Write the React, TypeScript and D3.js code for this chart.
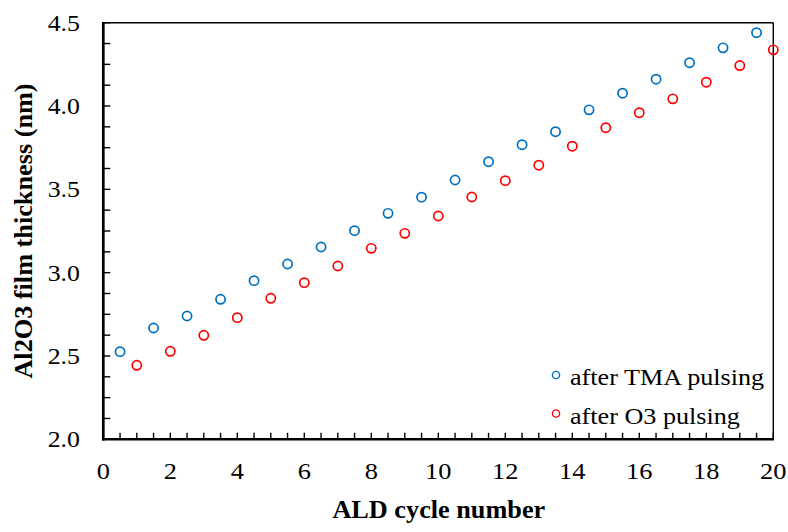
import React from "react";
import * as d3 from "d3";

const tmaCycles = [0.5, 1.5, 2.5, 3.5, 4.5, 5.5, 6.5, 7.5, 8.5, 9.5, 10.5, 11.5, 12.5, 13.5, 14.5, 15.5, 16.5, 17.5, 18.5, 19.5];
const tmaThickness = [2.526, 2.668, 2.74, 2.84, 2.952, 3.052, 3.154, 3.252, 3.356, 3.453, 3.556, 3.666, 3.768, 3.846, 3.977, 4.077, 4.161, 4.26, 4.349, 4.44];
const o3Cycles = [1, 2, 3, 4, 5, 6, 7, 8, 9, 10, 11, 12, 13, 14, 15, 16, 17, 18, 19, 20];
const o3Thickness = [2.444, 2.528, 2.624, 2.73, 2.846, 2.94, 3.04, 3.146, 3.236, 3.34, 3.454, 3.552, 3.645, 3.759, 3.87, 3.96, 4.043, 4.143, 4.243, 4.337];

const xMajorTicks = [0, 2, 4, 6, 8, 10, 12, 14, 16, 18, 20];
const yMajorTicks = [2.0, 2.5, 3.0, 3.5, 4.0, 4.5];
const seriesNames = ["after TMA pulsing", "after O3 pulsing"];
const seriesColors = ["#0070C0", "#FF0000"];

const W = 788;
const H = 532;
const L = 103.3, R = 773.3, T = 22.7, B = 439.3;

export default function App() {
  const x = d3.scaleLinear().domain([0, 20]).range([L, R]);
  const y = d3.scaleLinear().domain([2, 4.5]).range([B, T]);
  const xMinor = d3.range(0, 20.001, 0.5);
  const yMinor = d3.range(2, 4.5001, 0.125);
  const font = '"Liberation Serif", "Times New Roman", Times, serif';
  const txt = { fontFamily: font };

  const tma = tmaCycles.map((c, i) => ({ c, v: tmaThickness[i] }));
  const o3 = o3Cycles.map((c, i) => ({ c, v: o3Thickness[i] }));

  return (
    <svg width={W} height={H} style={{ position: "absolute", left: 0, top: 0, background: "#fff", fontFamily: font }}>
      {/* frame */}
      <line x1={L} x2={R} y1={T} y2={T} stroke="#000" strokeWidth={1.4} />
      <line x1={R} x2={R} y1={T} y2={B} stroke="#000" strokeWidth={1.4} />
      {/* ticks */}
      {yMinor.map((t, i) => (
        <line key={"yt" + i} x1={L} x2={L + 7} y1={y(t)} y2={y(t)} stroke="#000" strokeWidth={1.4} />
      ))}
      {xMinor.map((t, i) => (
        <line key={"xt" + i} x1={x(t)} x2={x(t)} y1={B} y2={B - 6.5} stroke="#000" strokeWidth={1.4} />
      ))}
      <line x1={L} x2={L} y1={T - 0.7} y2={B + 1.3} stroke="#000" strokeWidth={2.7} />
      <line x1={L - 1.3} x2={R + 0.7} y1={B} y2={B} stroke="#000" strokeWidth={2.5} />
      {/* tick labels */}
      {yMajorTicks.map((t) => (
        <g key={"yl" + t} transform={`translate(80,${y(t) + 8}) scale(1.1,1)`}>
          <text textAnchor="end" fontSize={23.5} fill="#000" style={txt}>
            {t.toFixed(1)}
          </text>
        </g>
      ))}
      {xMajorTicks.map((t) => (
        <g key={"xl" + t} transform={`translate(${x(t)},479) scale(1.1,1)`}>
          <text textAnchor="middle" fontSize={24} fill="#000" style={txt}>
            {t}
          </text>
        </g>
      ))}
      {/* axis titles */}
      <g transform={`translate(${(L + R) / 2 + 0.5},518) scale(1.05,1)`}>
        <text textAnchor="middle" fontSize={25} fontWeight="bold" fill="#000" style={txt}>
          ALD cycle number
        </text>
      </g>
      <g transform={`translate(32,${(T + B) / 2}) rotate(-90) scale(1.05,1)`}>
        <text textAnchor="middle" fontSize={25} fontWeight="bold" fill="#000" style={txt}>
          Al2O3 film thickness (nm)
        </text>
      </g>
      {/* data */}
      {tma.map((d, i) => (
        <circle key={"b" + i} cx={x(d.c)} cy={y(d.v)} r={4.6} fill="none" stroke={seriesColors[0]} strokeWidth={1.7} />
      ))}
      {o3.map((d, i) => (
        <circle key={"r" + i} cx={x(d.c)} cy={y(d.v)} r={4.6} fill="none" stroke={seriesColors[1]} strokeWidth={1.7} />
      ))}
      {/* legend */}
      {seriesNames.map((n, i) => (
        <g key={n}>
          <circle cx={556} cy={375 + i * 38.5} r={3.6} fill="none" stroke={seriesColors[i]} strokeWidth={1.4} />
          <g transform={`translate(570,${385 + i * 38.5}) scale(1.09,1)`}>
            <text fontSize={24} fill="#000" style={txt}>
              {n}
            </text>
          </g>
        </g>
      ))}
    </svg>
  );
}
